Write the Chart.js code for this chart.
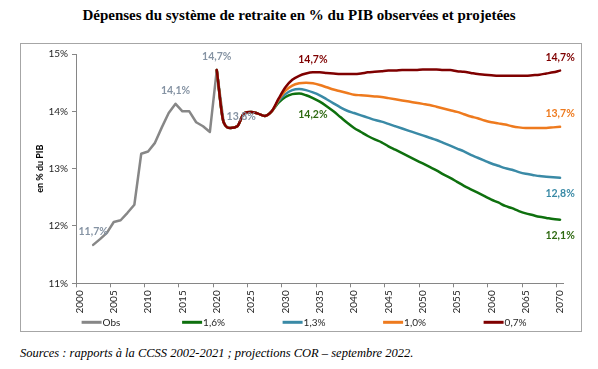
<!DOCTYPE html>
<html><head><meta charset="utf-8">
<script src="https://cdn.jsdelivr.net/npm/chart.js@4/dist/chart.umd.min.js"></script>
<style>
html,body{margin:0;padding:0;background:#fff;}
body{width:598px;height:369px;position:relative;overflow:hidden;}
#title{position:absolute;left:0;top:7px;width:598px;text-align:center;font:bold 15px "Liberation Serif",serif;color:#000;}
#box{position:absolute;left:20px;top:43px;width:560px;height:287px;border:1px solid #a6a6a6;}
#src{position:absolute;left:20px;top:346px;font:italic 12.5px "Liberation Serif",serif;color:#000;white-space:nowrap;}
canvas{display:block;}
</style></head>
<body>
<div id="title">Dépenses du système de retraite en % du PIB observées et projetées</div>
<div id="box"><canvas id="c" width="560" height="287"></canvas></div>
<div id="src">Sources : rapports à la CCSS 2002-2021 ; projections COR – septembre 2022.</div>
<script>
const years = [2000,2001,2002,2003,2004,2005,2006,2007,2008,2009,2010,2011,2012,2013,2014,2015,2016,2017,2018,2019,
2020,2021,2022,2023,2024,2025,2026,2027,2028,2029,2030,2031,2032,2033,2034,2035,2036,2037,2038,2039,
2040,2041,2042,2043,2044,2045,2046,2047,2048,2049,2050,2051,2052,2053,2054,2055,2056,2057,2058,2059,
2060,2061,2062,2063,2064,2065,2066,2067,2068,2069,2070];

const obsStartYear = 2002;
const obsValues = [11.67,11.77,11.88,12.07,12.10,12.23,12.37,13.26,13.30,13.45,13.72,13.97,14.13,14.00,14.00,13.81,13.74,13.64,14.72,13.81];

const projStartYear = 2020;
const proj16 = [14.72,13.81,13.71,13.74,13.97,13.99,13.96,13.92,14.00,
14.15,14.25,14.30,14.31,14.28,14.23,14.17,14.09,14.00,13.90,13.80,13.71,13.64,13.57,13.51,13.46,13.39,13.33,13.27,13.21,13.15,
13.09,13.03,12.97,12.90,12.84,12.77,12.70,12.64,12.58,12.52,12.46,12.41,12.35,12.31,12.26,12.22,12.19,12.16,12.14,12.12,12.11];
const proj13 = [14.72,13.81,13.71,13.74,13.97,13.99,13.96,13.92,14.00,
14.18,14.30,14.37,14.39,14.37,14.33,14.28,14.21,14.14,14.07,14.01,13.97,13.93,13.89,13.85,13.82,13.78,13.74,13.70,13.66,13.62,
13.58,13.54,13.50,13.45,13.40,13.35,13.30,13.24,13.19,13.14,13.09,13.05,13.01,12.98,12.94,12.91,12.89,12.87,12.86,12.85,12.84];
const proj10 = [14.72,13.81,13.71,13.74,13.97,13.99,13.96,13.92,14.00,
14.20,14.36,14.45,14.49,14.50,14.49,14.46,14.42,14.38,14.35,14.32,14.29,14.28,14.27,14.26,14.25,14.23,14.21,14.19,14.17,14.15,
14.13,14.11,14.08,14.05,14.02,13.99,13.95,13.91,13.88,13.84,13.81,13.79,13.77,13.74,13.72,13.71,13.71,13.71,13.71,13.72,13.73];
const proj07 = [14.72,13.81,13.71,13.74,13.97,13.99,13.96,13.92,14.00,
14.22,14.42,14.55,14.62,14.66,14.68,14.68,14.67,14.66,14.65,14.65,14.65,14.66,14.68,14.69,14.70,14.71,14.71,14.72,14.72,14.72,
14.73,14.73,14.73,14.72,14.72,14.70,14.69,14.67,14.65,14.64,14.63,14.62,14.62,14.62,14.62,14.62,14.63,14.64,14.66,14.68,14.71];

const seriesNames = ['Obs','1,6%','1,3%','1,0%','0,7%'];
const seriesColors = ['#878787','#0e700e','#3a8aa6','#ee7a1e','#7f0000'];
const labelColors = ['#8593a3','#2f6a12','#3a8aa6','#ee7a1e','#7f0000'];
const yTickValues = [11,12,13,14,15];

// value labels: [series, year, position]
const valueLabels = [
  ['Obs',2002,'above'],['Obs',2014,'above'],['Obs',2020,'above'],['Obs',2021,'right'],
  ['0,7%',2034,'above'],['1,6%',2034,'below'],
  ['0,7%',2070,'above'],['1,0%',2070,'above'],['1,3%',2070,'below'],['1,6%',2070,'below']
];

function alignTo(start, vals){
  return years.map(y => { const i = y - start; return (i >= 0 && i < vals.length) ? vals[i] : null; });
}

const seriesData = [alignTo(obsStartYear, obsValues), alignTo(projStartYear, proj16), alignTo(projStartYear, proj13),
  alignTo(projStartYear, proj10), alignTo(projStartYear, proj07)];
const drawOrder = [4,3,2,1,0];

const datasets = seriesNames.map((name, i) => ({
  label: name,
  data: seriesData[i],
  borderColor: seriesColors[i],
  backgroundColor: seriesColors[i],
  borderWidth: 2.5,
  pointRadius: 0,
  fill: false,
  spanGaps: false,
  order: drawOrder[i],
  cubicInterpolationMode: i === 0 ? 'default' : 'monotone',
  tension: 0,
  borderCapStyle: 'round',
  borderJoinStyle: 'round'
}));

const fmt = v => v.toFixed(1).replace('.', ',') + '%';

const labelPlugin = {
  id: 'valueLabels',
  afterDatasetsDraw(chart){
    const ctx = chart.ctx;
    ctx.save();
    ctx.font = 'bold 10.5px Lato, "Open Sans", sans-serif';
    valueLabels.forEach(([name, year, pos]) => {
      const di = seriesNames.indexOf(name);
      const idx = years.indexOf(year);
      const el = chart.getDatasetMeta(di).data[idx];
      const v = chart.data.datasets[di].data[idx];
      if (!el || v == null) return;
      ctx.fillStyle = labelColors[di];
      let x = el.x, y = el.y;
      if (pos === 'above'){ ctx.textAlign = 'center'; ctx.textBaseline = 'middle'; y -= 13; }
      else if (pos === 'below'){ ctx.textAlign = 'center'; ctx.textBaseline = 'middle'; y += 16; }
      else { ctx.textAlign = 'left'; ctx.textBaseline = 'middle'; x += 3; y -= 6; }
      ctx.fillText(fmt(v), x, y);
    });
    ctx.restore();
  }
};

const legendPlugin = {
  id: 'lineLegend',
  afterDraw(chart){
    const ctx = chart.ctx;
    const a = chart.chartArea;
    const y = a.bottom + 39;
    ctx.save();
    ctx.font = '10px Lato, "Open Sans", sans-serif';
    ctx.textBaseline = 'middle';
    ctx.textAlign = 'left';
    chart.data.datasets.forEach((ds, i) => {
      const x0 = a.left + 5.6 + i * 100.5;
      ctx.strokeStyle = ds.borderColor;
      ctx.lineWidth = 3;
      ctx.beginPath(); ctx.moveTo(x0, y); ctx.lineTo(x0 + 20, y); ctx.stroke();
      ctx.fillStyle = '#262626';
      ctx.fillText(ds.label, x0 + 21, y + 0.5);
    });
    ctx.restore();
  }
};

const axisGray = '#868686';

new Chart(document.getElementById('c'), {
  type: 'line',
  data: { labels: years.map(String), datasets },
  options: {
    responsive: false,
    animation: false,
    layout: { padding: { left: 0, right: 17.5, top: 9.3, bottom: 17.7 } },
    plugins: { legend: { display: false }, tooltip: { enabled: false }, title: { display: false } },
    scales: {
      x: {
        type: 'category',
        offset: true,
        grid: {
          offset: true,
          drawOnChartArea: false,
          drawTicks: true,
          tickLength: 4,
          color: ctx => (ctx.index % 5 === 0 ? axisGray : 'rgba(0,0,0,0)'),
          lineWidth: 1
        },
        border: { display: true, color: axisGray, width: 1 },
        ticks: {
          autoSkip: false,
          minRotation: 90,
          maxRotation: 90,
          padding: 3,
          color: '#262626',
          font: { family: 'Lato, "Open Sans", sans-serif', size: 10 },
          callback: (val, idx) => (years[idx] % 5 === 0 ? String(years[idx]) : '')
        },
        afterFit: s => { s.height = 30; }
      },
      y: {
        type: 'linear',
        min: 11,
        max: 15,
        afterBuildTicks: s => { s.ticks = yTickValues.map(v => ({ value: v })); },
        grid: { drawOnChartArea: false, drawTicks: true, tickLength: 4, color: axisGray },
        border: { display: true, color: axisGray, width: 1 },
        ticks: {
          padding: 4,
          color: '#262626',
          font: { family: 'Lato, "Open Sans", sans-serif', size: 10 },
          callback: v => v + '%'
        },
        title: {
          display: true,
          text: 'en % du PIB',
          color: '#000',
          font: { family: 'Lato, "Open Sans", sans-serif', size: 9, weight: 'bold' },
          padding: { top: 14, bottom: 0 }
        },
        afterFit: s => { s.width = 55; }
      }
    }
  },
  plugins: [labelPlugin, legendPlugin]
});
</script>
</body></html>
